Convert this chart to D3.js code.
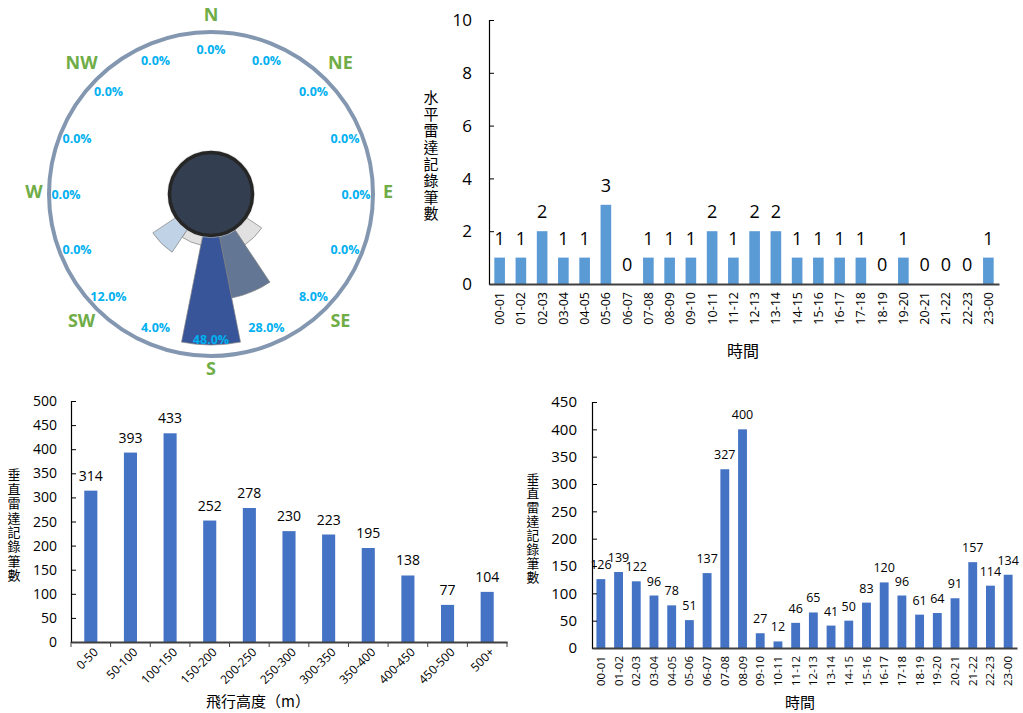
<!DOCTYPE html>
<html><head><meta charset="utf-8">
<script src="https://cdn.jsdelivr.net/npm/d3@7"></script>
<style>
body{margin:0;background:#fff;}
svg{display:block;font-family:"Open Sans","Noto Sans CJK TC",sans-serif;}
.cjk{font-family:"Noto Sans CJK TC","Noto Sans",sans-serif;}
.vt{writing-mode:vertical-rl;text-orientation:upright;}
</style></head><body>
<svg id="c" width="1023" height="713"></svg>
<script>
// ---- Data ----
const roseDirs = ["N","NNE","NE","ENE","E","ESE","SE","SSE","S","SSW","SW","WSW","W","WNW","NW","NNW"];
const roseValues = [0,0,0,0,0,0,8,28,48,4,12,0,0,0,0,0];
const compassLabels = ["N","NE","E","SE","S","SW","W","NW"];

const hours = ["00-01","01-02","02-03","03-04","04-05","05-06","06-07","07-08","08-09","09-10","10-11","11-12",
  "12-13","13-14","14-15","15-16","16-17","17-18","18-19","19-20","20-21","21-22","22-23","23-00"];
const horizCounts = [1,1,2,1,1,3,0,1,1,1,2,1,2,2,1,1,1,1,0,1,0,0,0,1];
const horizTicks = [0,2,4,6,8,10];

const heights = ["0-50","50-100","100-150","150-200","200-250","250-300","300-350","350-400","400-450","450-500","500+"];
const heightCounts = [314,393,433,252,278,230,223,195,138,77,104];
const heightTicks = [0,50,100,150,200,250,300,350,400,450,500];

const vertHourCounts = [126,139,122,96,78,51,137,327,400,27,12,46,65,41,50,83,120,96,61,64,91,157,114,134];
const vertHourTicks = [0,50,100,150,200,250,300,350,400,450];

const svg = d3.select("#c");

// ---- Wind rose ----
(function(){
  const cx = 211, cy = 194;
  const g = svg.append("g").attr("transform", `translate(${cx},${cy})`);
  const r = d3.scaleLinear().domain([0,48]).range([43,151]);
  const color = d3.scaleThreshold().domain([10,20,40]).range(["#e1e1e1","#bfd2e6","#637693","#375598"]);
  const step = 2*Math.PI/roseDirs.length;
  const arc = d3.arc();
  g.selectAll("path.w").data(roseValues.map((v,i)=>({v,i})).filter(d=>d.v>0)).join("path")
    .attr("class","w")
    .attr("d", d=>arc({innerRadius:0, outerRadius:r(d.v), startAngle:d.i*step-step/2, endAngle:d.i*step+step/2}))
    .attr("fill", d=>color(d.v)).attr("stroke","#808080").attr("stroke-width",0.7);
  // outer circle
  g.append("circle").attr("r",162).attr("fill","none").attr("stroke","#8497b0").attr("stroke-width",4);
  // inner hub
  g.append("circle").attr("r",44).attr("fill","#d0d0d0").attr("opacity",0.6);
  g.append("circle").attr("r",41.5).attr("fill","#333f50").attr("stroke","#262626").attr("stroke-width",3.5);
  // percent labels
  g.selectAll("text.p").data(roseValues).join("text").attr("class","p")
    .attr("x",(d,i)=>145*Math.sin(i*step)).attr("y",(d,i)=>-145*Math.cos(i*step))
    .attr("text-anchor","middle").attr("dominant-baseline","central")
    .attr("fill","#00b0f0").attr("font-weight","bold").attr("font-size",12.5)
    .text(d=>d.toFixed(1)+"%");
  // compass labels
  const cstep = 2*Math.PI/compassLabels.length;
  g.selectAll("text.c").data(compassLabels).join("text").attr("class","c")
    .attr("x",(d,i)=>(i%2?183:177)*Math.sin(i*cstep)).attr("y",(d,i)=>-3-(i%2?183:177)*Math.cos(i*cstep))
    .attr("text-anchor","middle").attr("dominant-baseline","central")
    .attr("fill","#70ad47").attr("font-weight","bold").attr("font-size",18)
    .text(d=>d);
})();

// ---- generic bar chart ----
function barChart(o){
  const g = svg.append("g");
  const x = d3.scaleBand().domain(o.cats).range([o.x0,o.x1]).paddingInner(o.pi).paddingOuter(o.po);
  const y = d3.scaleLinear().domain([0,o.ymax]).range([o.y0,o.y1]);
  g.selectAll("rect").data(o.values).join("rect")
    .attr("x",(d,i)=>x(o.cats[i])).attr("width",x.bandwidth())
    .attr("y",d=>y(d)).attr("height",d=>o.y0-y(d)).attr("fill",o.color);
  // y axis
  const ya = g.append("g").attr("transform",`translate(${o.x0},0)`)
    .call(d3.axisRight(y).tickValues(o.ticks).tickSize(5).tickFormat(""));
  ya.select(".domain").attr("stroke","#000").attr("stroke-width",1.2);
  ya.selectAll(".tick line").attr("stroke","#000");
  g.selectAll("text.yt").data(o.ticks).join("text").attr("class","yt")
    .attr("x",o.x0-o.tickGap).attr("y",d=>y(d)).attr("dy","0.36em")
    .attr("text-anchor","end").attr("font-size",o.tickFont).attr("fill","#000").text(d=>d);
  // x axis
  const xa = g.append("g").attr("transform",`translate(0,${o.y0})`)
    .call(d3.axisBottom(x).tickSize(0).tickFormat(""));
  xa.select(".domain").attr("stroke","#404040").attr("stroke-width",1.8);
  if(o.xTicks){
    const st = x.step();
    g.selectAll("line.xt").data(d3.range(o.cats.length+1)).join("line").attr("class","xt")
      .attr("x1",i=>o.x0+i*st).attr("x2",i=>o.x0+i*st).attr("y1",o.y0).attr("y2",o.y0+5)
      .attr("stroke","#404040");
  }
  // x labels
  const xl = g.selectAll("text.xl").data(o.cats).join("text").attr("class","xl")
    .attr("font-size",o.xFont).attr("fill","#000").attr("text-anchor","end").text(d=>d);
  if(o.rot===-90){
    xl.attr("transform",d=>`translate(${x(d)+x.bandwidth()/2},${o.y0+o.xGap}) rotate(-90)`).attr("dy","0.35em");
  } else {
    xl.attr("transform",d=>`translate(${x(d)+x.bandwidth()/2+5},${o.y0+o.xGap}) rotate(-45)`).attr("dy","0.35em");
  }
  // data labels
  g.selectAll("text.dl").data(o.values).join("text").attr("class","dl")
    .attr("x",(d,i)=>x(o.cats[i])+x.bandwidth()/2).attr("y",d=>y(d)-o.lblGap)
    .attr("text-anchor","middle").attr("font-size",o.lblFont).attr("fill","#000").text(d=>d);
  // y title (vertical, upright CJK)
  g.append("text").attr("class","cjk vt").attr("font-size",o.ytFont).attr("fill","#000")
    .attr("x",o.ytX).attr("y",o.ytY).attr("text-anchor","start")
    .style("letter-spacing",o.ytSp+"px").text(o.ytitle);
  // x title
  g.append("text").attr("class","cjk").attr("x",o.xtX).attr("y",o.xtY).attr("text-anchor","middle")
    .attr("font-size",o.xtFont).attr("fill","#000").text(o.xtitle);
}

barChart({cats:hours, values:horizCounts, ticks:horizTicks, ymax:10,
  x0:489, x1:999, y0:284, y1:20, pi:0.5, po:0.25, color:"#5b9bd5",
  tickGap:17, tickFont:17, xFont:12.5, xGap:8, rot:-90, lblGap:13, lblFont:18,
  ytitle:"水平雷達記錄筆數", ytX:431, ytY:90, ytSp:1.6, ytFont:15,
  xtitle:"時間", xtX:743, xtY:357, xtFont:16});

barChart({cats:heights, values:heightCounts, ticks:heightTicks, ymax:500,
  x0:71, x1:507, y0:642, y1:401, pi:0.67, po:0.335, color:"#4472c4",
  tickGap:14, tickFont:14, xFont:12, xGap:8, rot:-45, lblGap:10, lblFont:14, xTicks:true,
  ytitle:"垂直雷達記錄筆數", ytX:14, ytY:468, ytSp:1.4, ytFont:13,
  xtitle:"飛行高度（m）", xtX:258, xtY:707, xtFont:15});

barChart({cats:hours, values:vertHourCounts, ticks:vertHourTicks, ymax:450,
  x0:592, x1:1017, y0:648, y1:402, pi:0.5, po:0.25, color:"#4472c4",
  tickGap:15, tickFont:15, xFont:11.5, xGap:8, rot:-90, lblGap:10, lblFont:12.5,
  ytitle:"垂直雷達記錄筆數", ytX:533, ytY:473, ytSp:1.2, ytFont:12.8,
  xtitle:"時間", xtX:800, xtY:708, xtFont:15});
</script>
</body></html>
